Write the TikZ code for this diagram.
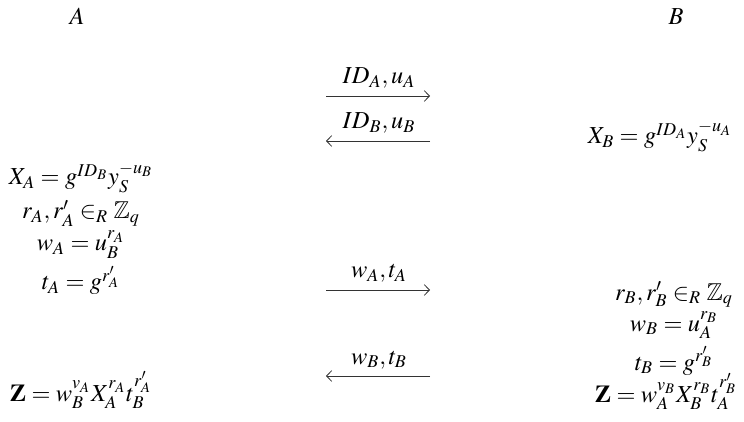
\documentclass[tikz,border=0pt]{standalone}
\usepackage{mathptmx}
\usepackage{amssymb}
\usetikzlibrary{arrows.meta}
\tikzset{
  lbl/.style={inner sep=0pt, anchor=base, font=\fontsize{12.2}{14}\selectfont},
  msg/.style={draw=black!80, line width=0.4pt, -{Straight Barb[length=2.6pt,width=5.4pt,line width=0.4pt]}}
}
\begin{document}
\begin{tikzpicture}[x=0.5pt,y=-0.5pt]
\useasboundingbox (0,0) rectangle (744,422);
% party names
\node[lbl] (pa) at (77,25) {$A$};
\node[lbl] (pb) at (676,25) {$B$};
% left column
\node[lbl] (xa) at (81,185) {$X_A = g^{ID_B} y_S^{-u_B}$};
\node[lbl] (ra) at (81,219) {$r_A, r'_A \in_R \mathbb{Z}_q$};
\node[lbl] (wa) at (81,251) {$w_A = u_B^{r_A}$};
\node[lbl] (ta) at (81,290) {$t_A = g^{r'_A}$};
\node[lbl] (za) at (81,401) {$\mathbf{Z} = w_B^{v_A} X_A^{r_A} t_B^{r'_A}$};
% right column
\node[lbl] (xb) at (660,144) {$X_B = g^{ID_A} y_S^{-u_A}$};
\node[lbl] (rb) at (674,300) {$r_B, r'_B \in_R \mathbb{Z}_q$};
\node[lbl] (wb) at (674,331) {$w_B = u_A^{r_B}$};
\node[lbl] (tb) at (674,370) {$t_B = g^{r'_B}$};
\node[lbl] (zb) at (666,402) {$\mathbf{Z} = w_A^{v_B} X_B^{r_B} t_A^{r'_B}$};
% messages
\coordinate (m1l) at (326,96); \coordinate (m1r) at (430,96);
\coordinate (m2l) at (326,141); \coordinate (m2r) at (430,141);
\coordinate (m3l) at (326,290); \coordinate (m3r) at (430,290);
\coordinate (m4l) at (326,376); \coordinate (m4r) at (430,376);
\draw[msg] (m1l) -- (m1r);
\draw[msg] (m2r) -- (m2l);
\draw[msg] (m3l) -- (m3r);
\draw[msg] (m4r) -- (m4l);
\node[lbl] (l1) at (379,84) {$ID_A, u_A$};
\node[lbl] (l2) at (379,129) {$ID_B, u_B$};
\node[lbl] (l3) at (379,278) {$w_A, t_A$};
\node[lbl] (l4) at (379,364) {$w_B, t_B$};
\end{tikzpicture}
\end{document}
